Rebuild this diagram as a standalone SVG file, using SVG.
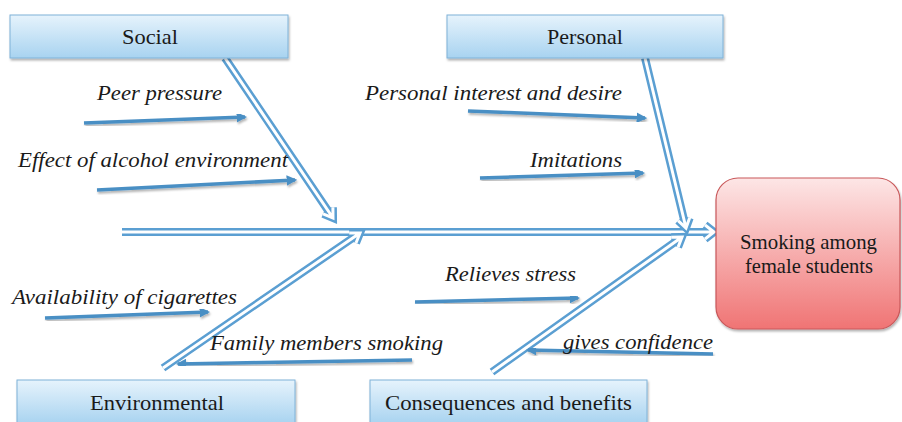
<svg xmlns="http://www.w3.org/2000/svg" width="902" height="422" viewBox="0 0 902 422">
<defs>
<linearGradient id="gBlue" x1="0" y1="0" x2="0" y2="1">
<stop offset="0" stop-color="#e6f3fc"/>
<stop offset="1" stop-color="#a8d3f0"/>
</linearGradient>
<linearGradient id="gRed" x1="0" y1="0" x2="0" y2="1">
<stop offset="0" stop-color="#fde6e6"/>
<stop offset="1" stop-color="#f07474"/>
</linearGradient>
<marker id="ah" viewBox="0 0 10 10" refX="8" refY="5" markerWidth="3" markerHeight="3" orient="auto" markerUnits="strokeWidth">
<path d="M0,0 L10,5 L0,10 z" fill="#4a8fc4"/>
</marker>
<filter id="sh" x="-10%" y="-50%" width="120%" height="200%">
<feDropShadow dx="1" dy="2" stdDeviation="1.2" flood-color="#000" flood-opacity="0.3"/>
</filter>
</defs>
<style>
.box{fill:url(#gBlue);stroke:#7fb2d8;stroke-width:1;filter:url(#sh)}
.res{fill:url(#gRed);stroke:#c9585a;stroke-width:1.2;filter:url(#sh)}
.bl{font-family:'Liberation Serif','DejaVu Serif',serif;font-size:21px;fill:#1a1a1a}
.lb{font-family:'Liberation Serif','DejaVu Serif',serif;font-size:20px;font-style:italic;fill:#1a1a1a}
.bo{fill:none;stroke:#5b9fd2;stroke-width:8;stroke-linejoin:miter;stroke-linecap:butt}
.bi{fill:none;stroke:#ffffff;stroke-width:3;stroke-linejoin:miter;stroke-linecap:butt}
.sa{fill:none;stroke:#4a8fc4;stroke-width:3.5;marker-end:url(#ah);filter:url(#sh)}
</style>
<rect width="902" height="422" fill="#ffffff"/>
<g id="connectors">
<g id="spine">
<path class="bo" d="M122,232 L714,232 M705,225 L714,232 L705,239"/>
<path class="bi" d="M122,232 L714,232 M705,225 L714,232 L705,239"/>
</g>
<g id="bone-social">
<path class="bo" d="M225,58 L333,218 M323,213.9 L333,218 L332.9,207.2"/>
<path class="bi" d="M225,58 L333,218 M323,213.9 L333,218 L332.9,207.2"/>
</g>
<g id="bone-personal">
<path class="bo" d="M645,58 L686,228 M678.1,220.6 L686,228 L689.7,217.8"/>
<path class="bi" d="M645,58 L686,228 M678.1,220.6 L686,228 L689.7,217.8"/>
</g>
<g id="bone-environmental">
<path class="bo" d="M163,368 L360,233 M356,243 L360,233 L349.2,233.1"/>
<path class="bi" d="M163,368 L360,233 M356,243 L360,233 L349.2,233.1"/>
</g>
<g id="bone-consequences">
<path class="bo" d="M492,372 L682,237 M678.1,247.1 L682,237 L671.2,237.3"/>
<path class="bi" d="M492,372 L682,237 M678.1,247.1 L682,237 L671.2,237.3"/>
</g>
<line class="sa" x1="84" y1="123" x2="245" y2="117"/>
<line class="sa" x1="97" y1="190" x2="295" y2="180"/>
<line class="sa" x1="468" y1="111" x2="645" y2="118"/>
<line class="sa" x1="480" y1="178" x2="643" y2="173"/>
<line class="sa" x1="45" y1="318" x2="208" y2="312"/>
<line class="sa" x1="412" y1="360" x2="178" y2="364"/>
<line class="sa" x1="415" y1="302" x2="578" y2="298"/>
<line class="sa" x1="713" y1="354" x2="528" y2="350"/>
</g>
<g id="node-social">
<rect class="box" x="10" y="15" width="278" height="43"/>
<text class="bl" x="122" y="44" textLength="56" lengthAdjust="spacingAndGlyphs">Social</text>
</g>
<g id="node-personal">
<rect class="box" x="447" y="15" width="276" height="43"/>
<text class="bl" x="547" y="44" textLength="76" lengthAdjust="spacingAndGlyphs">Personal</text>
</g>
<g id="node-environmental">
<rect class="box" x="17" y="380" width="278" height="44"/>
<text class="bl" x="90" y="410" textLength="134" lengthAdjust="spacingAndGlyphs">Environmental</text>
</g>
<g id="node-consequences">
<rect class="box" x="370" y="380" width="277" height="44"/>
<text class="bl" x="385" y="410" textLength="247" lengthAdjust="spacingAndGlyphs">Consequences and benefits</text>
</g>
<g id="node-result">
<rect class="res" x="716" y="178" width="184" height="151" rx="22" ry="22"/>
<text class="bl" x="740" y="249" font-size="20" textLength="137" lengthAdjust="spacingAndGlyphs">Smoking among</text>
<text class="bl" x="745" y="273" font-size="20" textLength="128" lengthAdjust="spacingAndGlyphs">female students</text>
</g>
<g id="labels">
<text class="lb" x="97" y="100" textLength="125" lengthAdjust="spacingAndGlyphs">Peer pressure</text>
<text class="lb" x="18" y="167" textLength="270" lengthAdjust="spacingAndGlyphs">Effect of alcohol environment</text>
<text class="lb" x="365" y="100" textLength="257" lengthAdjust="spacingAndGlyphs">Personal interest and desire</text>
<text class="lb" x="530" y="167" textLength="92" lengthAdjust="spacingAndGlyphs">Imitations</text>
<text class="lb" x="12" y="304" textLength="225" lengthAdjust="spacingAndGlyphs">Availability of cigarettes</text>
<text class="lb" x="210" y="350" textLength="233" lengthAdjust="spacingAndGlyphs">Family members smoking</text>
<text class="lb" x="445" y="281" textLength="131" lengthAdjust="spacingAndGlyphs">Relieves stress</text>
<text class="lb" x="563" y="349" textLength="150" lengthAdjust="spacingAndGlyphs">gives confidence</text>
</g>
</svg>
